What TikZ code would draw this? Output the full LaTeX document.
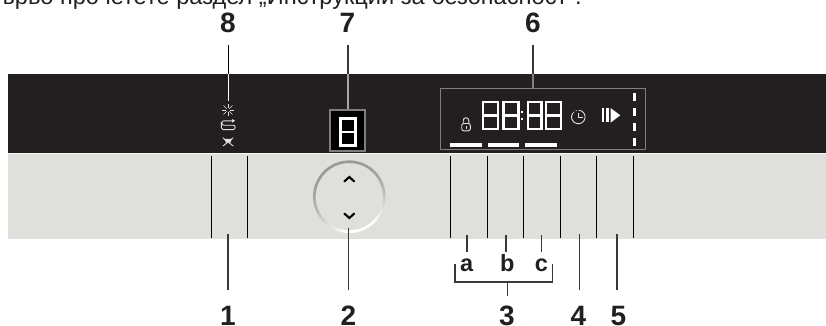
\documentclass[tikz,border=0pt]{standalone}
\usepackage{fontspec}
\setmainfont{Liberation Sans}
\definecolor{panelblack}{HTML}{231F20}
\definecolor{panelgrey}{HTML}{DFE0DB}
\definecolor{leaddark}{HTML}{3A3839}
\definecolor{framegrey}{HTML}{7E7E7E}
\newcommand{\segeight}[4]{%
  \draw[segline] (#1+1.1,#2+1.1) rectangle (#3-1.1,#4-1.1);
  \draw[segline] (#1+1.1,{(#2+#4)/2}) -- (#3-1.1,{(#2+#4)/2});
}
\tikzset{
  x=1pt,y=-1pt,
  segline/.style={white,line width=2.3,line join=miter},
  numlabel/.style={font=\fontsize{28}{28}\selectfont\bfseries,text=panelblack,inner sep=0,anchor=base},
  letlabel/.style={font=\fontsize{23.5}{23.5}\selectfont\bfseries,text=panelblack,inner sep=0,anchor=base},
  leader/.style={leaddark,line width=1.2},
  cellline/.style={black,line width=1},
  iconline/.style={white!88!black,line width=0.9},
  chevron/.style={black,line width=2.1,line cap=round,line join=miter},
  bar/.style={fill=white,draw=none},
}
\begin{document}
\begin{tikzpicture}
\useasboundingbox (0,0) rectangle (826,326);
\clip (0,0) rectangle (826,326);

% clipped sentence at the top
\node[inner sep=0,anchor=base west,font=\fontsize{23.6}{23.6}\selectfont,text=panelblack] (intro) at (0,5)
  {ърво прочетете раздел „Инструкции за безопасност“.};

% panels
\fill[panelgrey] (8,153) rectangle (826,238.5);
\fill[panelblack] (8,74) rectangle (826,153);
\draw[white!70!panelgrey,line width=0.8] (8,153.5) -- (826,153.5);

% button separators
\foreach \x/\n in {211.5/a,247.3/b,450.3/c,487.3/d,523.3/e,560.3/f,596.3/g,633.3/h}{
  \coordinate (t\n) at (\x,156);
  \coordinate (u\n) at (\x,238);
  \draw[cellline] (t\n) -- (u\n);
}

% dial
\coordinate (dialc) at (349.3,196.7);
\foreach \a in {0,6,...,354}{
  \pgfmathsetmacro{\w}{max(0,min(100,50+45*cos(\a-285)+12*cos(2*(\a-285))))}
  \pgfmathsetmacro{\aa}{\a+6.5}
  \draw[color=white!\w!black!48!white,line width=2.6] (dialc) ++(\a:35pt) arc[start angle=\a,end angle=\aa,radius=35pt];
}
\coordinate (dialbottom) at (348.7,228);
\draw[chevron] (344.4,181.4) -- (349.3,177) -- (354.2,181.4);
\draw[chevron] (344.4,213.6) -- (349.3,218) -- (354.2,213.6);

% seven-segment window
\node[draw=framegrey,fill=black,line width=1.1,minimum width=35,minimum height=41,inner sep=0] (window) at (347.5,130.5) {};
\segeight{339.3}{117.3}{356.7}{146.7}

% main display
\node[draw=framegrey,fill=panelblack,line width=1.1,minimum width=205,minimum height=61,inner sep=0] (display) at (543.4,119.2) {};
\segeight{481.7}{101}{499}{130}
\segeight{502.5}{101}{519.5}{130}
\segeight{526.7}{101}{542.5}{130}
\segeight{545}{101}{561.8}{130}
\fill[white] (521.2,110.8) rectangle (523.4,113);
\fill[white] (521.2,118) rectangle (523.4,120.2);
\fill[bar] (450.3,143.3) rectangle (482,146.5);
\fill[bar] (488,143.3) rectangle (519.2,146.5);
\fill[bar] (525.3,143.3) rectangle (556.5,146.5);
% lock
\draw[iconline,rounded corners=2] (461.7,123.5) rectangle (470.3,130.8);
\draw[iconline] (463.2,123.5) -- (463.2,120.5) arc[start angle=180,end angle=0,radius=2.8pt] -- (468.8,123.5);
\draw[iconline] (466,125.5) -- (466,128.5);
% timer
\coordinate (timerc) at (578.3,117);
\draw[iconline] (timerc) ++(80:6.8pt) arc[start angle=80,end angle=-215,radius=6.8pt];
\draw[iconline,dotted] (timerc) ++(80:6.8pt) arc[start angle=80,end angle=145,radius=6.8pt];
\draw[iconline] (578.3,112.5) -- (578.3,117.5) -- (582.5,117.5);
% pause / play
\fill[bar] (601.7,108.3) rectangle (604.4,122.4);
\fill[bar] (606,108.3) rectangle (608.7,122.4);
\fill[bar] (610.5,108) -- (620.3,115.3) -- (610.5,122.7) -- cycle;
% dashes
\foreach \a/\b in {93.3/101,108.3/116,123.3/131,137.7/145.7}{
  \fill[bar] (632.5,\a) rectangle (635.5,\b);
}

% mode icons
\foreach \r in {0,45,...,315}{
  \draw[iconline,line width=0.6] (228,110) ++(\r:1.8pt) -- ++(\r:4.6pt);
}
\draw[iconline] (233,120.8) -- (224,120.8) arc[start angle=90,end angle=270,radius=2.2pt] -- (233,125.2) arc[start angle=90,end angle=-90,radius=2.2pt] -- (223,129.6) arc[start angle=270,end angle=180,radius=1.6pt] -- (221.4,122);
\fill[white!88!black] (232,119) -- (235,120.8) -- (232,122.6) -- cycle;
\fill[white!88!black] (224,138.8) -- (232,138.8) -- (230.5,142.6) -- (226,142.6) -- cycle;
\draw[iconline] (222.8,137.8) -- (233.2,146);
\draw[iconline] (233.2,137.8) -- (223,146);

% labels
\node[numlabel] (n8) at (228,32.5) {8};
\node[numlabel] (n7) at (347.5,32.5) {7};
\node[numlabel] (n6) at (533,32.5) {6};
\node[numlabel] (n1) at (228,325) {1};
\node[numlabel] (n2) at (348.5,325) {2};
\node[numlabel] (n3) at (507,325) {3};
\node[numlabel] (n4) at (578.5,325) {4};
\node[numlabel] (n5) at (618.5,325) {5};
\node[letlabel] (la) at (466.7,271.7) {a};
\node[letlabel] (lb) at (507.2,271.7) {b};
\node[letlabel] (lc) at (541.5,271.7) {c};

% leaders from the top
\coordinate (p8a) at (228.5,45); \coordinate (p8b) at (228.5,74); \coordinate (p8c) at (228.5,101);
\draw[black,line width=0.9] (p8a) -- (p8b);
\draw[white,line width=0.9] (p8b) -- (p8c);
\coordinate (p7a) at (348,45); \coordinate (p7b) at (348,74);
\draw[leader] (p7a) -- (p7b);
\draw[white!65!black,line width=1.2] (p7b) -- (window.north -| p7b);
\coordinate (p6a) at (533,45); \coordinate (p6b) at (533,74);
\draw[leader] (p6a) -- (p6b);
\draw[white!50!black,line width=1.2] (p6b) -- (display.north -| p6b);

% leaders from below
\coordinate (e1a) at (228,234); \coordinate (e1b) at (228,290);
\draw[leader] (e1a) -- (e1b);
\coordinate (e2b) at (348.7,290);
\draw[leader] (dialbottom) -- (e2b);
\coordinate (e4a) at (579.7,234); \coordinate (e4b) at (579.7,290);
\draw[leader] (e4a) -- (e4b);
\coordinate (e5a) at (617,234); \coordinate (e5b) at (617,290);
\draw[leader] (e5a) -- (e5b);
\coordinate (ea) at (467,235); \coordinate (eb) at (506,235); \coordinate (ec) at (541.7,235);
\draw[leader] (ea) -- (467,252);
\draw[leader] (eb) -- (506,252);
\draw[leader] (ec) -- (541.7,252);

% bracket
\coordinate (bl) at (455,264); \coordinate (br) at (552.7,264);
\draw[leader,line join=miter] (bl) -- (455,282) -- (552.7,282) -- (br);
\coordinate (bs) at (507.3,282); \coordinate (bt) at (507.3,296);
\draw[leader] (bs) -- (bt);
\end{tikzpicture}
\end{document}
